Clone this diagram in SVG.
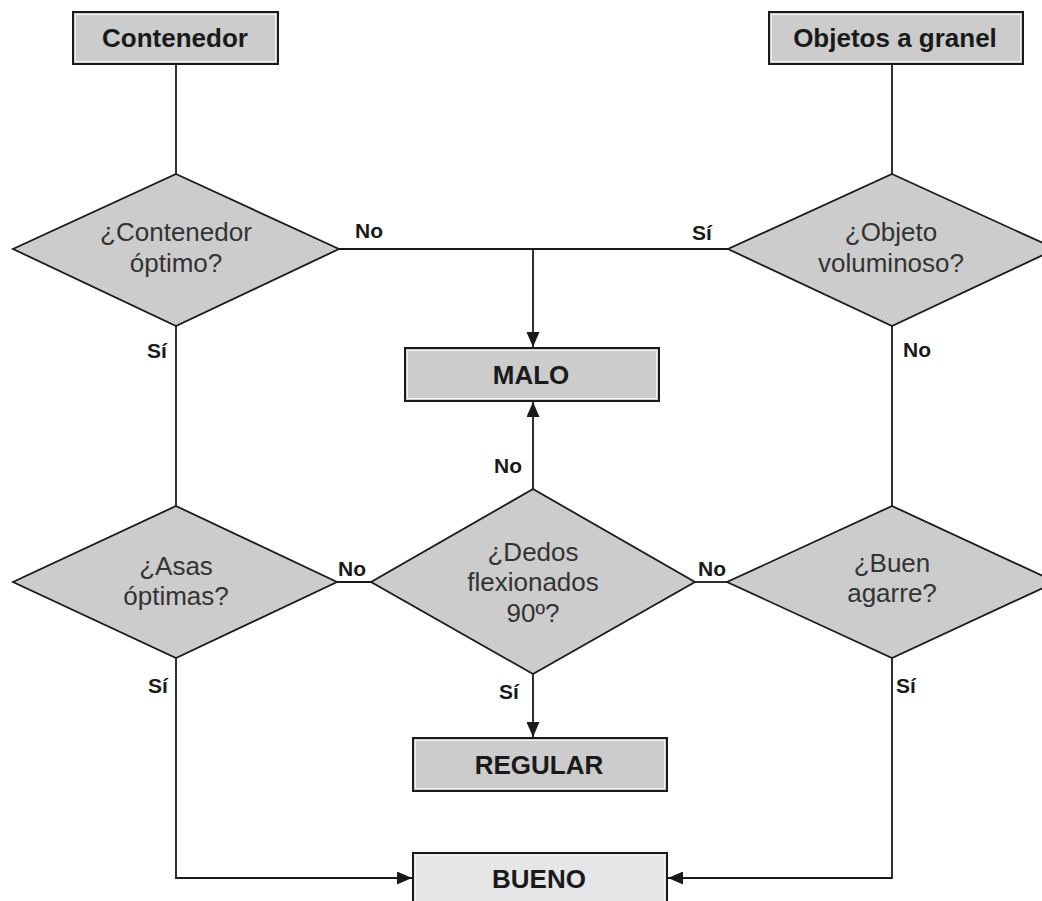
<svg xmlns="http://www.w3.org/2000/svg" width="1042" height="901" viewBox="0 0 1042 901">
  <style>
    .box { fill: #cccccc; stroke: #1a1a1a; stroke-width: 2; }
    .box2 { fill: #e6e6e6; stroke: #1a1a1a; stroke-width: 2; }
    .inner { fill: none; stroke: #f2f2f2; stroke-width: 1; }
    .dia { fill: #cccccc; stroke: #1a1a1a; stroke-width: 1.8; stroke-linejoin: miter; }
    .btxt { font-family: "Liberation Sans", Arial, sans-serif; font-weight: bold; font-size: 26px; fill: #1a1a1a; text-anchor: middle; }
    .dtxt { font-family: "Liberation Sans", Arial, sans-serif; font-size: 26px; fill: #333333; text-anchor: middle; }
    .lbl { font-family: "Liberation Sans", Arial, sans-serif; font-weight: bold; font-size: 21px; fill: #1a1a1a; }
    .con { fill: none; stroke: #1a1a1a; stroke-width: 1.8; }
  </style>
  <defs>
    <marker id="arr" viewBox="0 0 15 13" refX="15" refY="6.5" markerWidth="15" markerHeight="13" markerUnits="userSpaceOnUse" orient="auto">
      <path d="M0,0 L15,6.5 L0,13 Z" fill="#1a1a1a"/>
    </marker>
  </defs>
  <rect width="1042" height="901" fill="#ffffff"/>

  <g id="connectors">
    <path class="con" d="M176,64 V174"/>
    <path class="con" d="M892,64 V174"/>
    <path class="con" d="M339,249 H728"/>
    <path class="con" d="M533,249 V347" marker-end="url(#arr)"/>
    <path class="con" d="M533,489 V402" marker-end="url(#arr)"/>
    <path class="con" d="M176,326 V506"/>
    <path class="con" d="M892,326 V506"/>
    <path class="con" d="M337,582 H372"/>
    <path class="con" d="M695,582 H727"/>
    <path class="con" d="M533,674 V737" marker-end="url(#arr)"/>
    <path class="con" d="M176,658 V878 H412" marker-end="url(#arr)"/>
    <path class="con" d="M892,658 V878 H668" marker-end="url(#arr)"/>
    <text class="lbl" x="355" y="238">No</text>
    <text class="lbl" x="692" y="240">Sí</text>
    <text class="lbl" x="147" y="358">Sí</text>
    <text class="lbl" x="903" y="357">No</text>
    <text class="lbl" x="494" y="473">No</text>
    <text class="lbl" x="338" y="576">No</text>
    <text class="lbl" x="698" y="576">No</text>
    <text class="lbl" x="148" y="693">Sí</text>
    <text class="lbl" x="896" y="693">Sí</text>
    <text class="lbl" x="499" y="699">Sí</text>
  </g>

  <g id="contenedor">
    <rect class="box" x="73" y="12" width="205" height="52"/>
    <rect class="inner" x="75.5" y="14.5" width="200" height="47"/>
    <text class="btxt" x="175" y="47">Contenedor</text>
  </g>

  <g id="objetos">
    <rect class="box" x="769" y="12" width="254" height="52"/>
    <rect class="inner" x="771.5" y="14.5" width="249" height="47"/>
    <text class="btxt" x="895" y="47">Objetos a granel</text>
  </g>

  <g id="d-contenedor">
    <polygon class="dia" points="176,174 339,249 176,326 13,249"/>
    <text class="dtxt" x="176" y="241">¿Contenedor</text>
    <text class="dtxt" x="176" y="272">óptimo?</text>
  </g>

  <g id="d-objeto">
    <polygon class="dia" points="892,174 1056,249 892,326 728,249"/>
    <text class="dtxt" x="891" y="241">¿Objeto</text>
    <text class="dtxt" x="891" y="272">voluminoso?</text>
  </g>

  <g id="malo">
    <rect class="box" x="405" y="348" width="254" height="53"/>
    <rect class="inner" x="407.5" y="350.5" width="249" height="48"/>
    <text class="btxt" x="531" y="384">MALO</text>
  </g>

  <g id="d-asas">
    <polygon class="dia" points="176,506 337,582 176,658 13,582"/>
    <text class="dtxt" x="176" y="575">¿Asas</text>
    <text class="dtxt" x="176" y="605">óptimas?</text>
  </g>

  <g id="d-dedos">
    <polygon class="dia" points="533,489 695,582 533,674 371,582"/>
    <text class="dtxt" x="533" y="561">¿Dedos</text>
    <text class="dtxt" x="533" y="591">flexionados</text>
    <text class="dtxt" x="533" y="622">90º?</text>
  </g>

  <g id="d-buen">
    <polygon class="dia" points="892,506 1056,582 892,658 727,582"/>
    <text class="dtxt" x="892" y="572">¿Buen</text>
    <text class="dtxt" x="892" y="602">agarre?</text>
  </g>

  <g id="regular">
    <rect class="box" x="413" y="738" width="254" height="53"/>
    <rect class="inner" x="415.5" y="740.5" width="249" height="48"/>
    <text class="btxt" x="539" y="774">REGULAR</text>
  </g>

  <g id="bueno">
    <rect class="box2" x="413" y="853" width="254" height="60"/>
    <rect class="inner" x="415.5" y="855.5" width="249" height="55"/>
    <text class="btxt" x="539" y="888">BUENO</text>
  </g>
</svg>
